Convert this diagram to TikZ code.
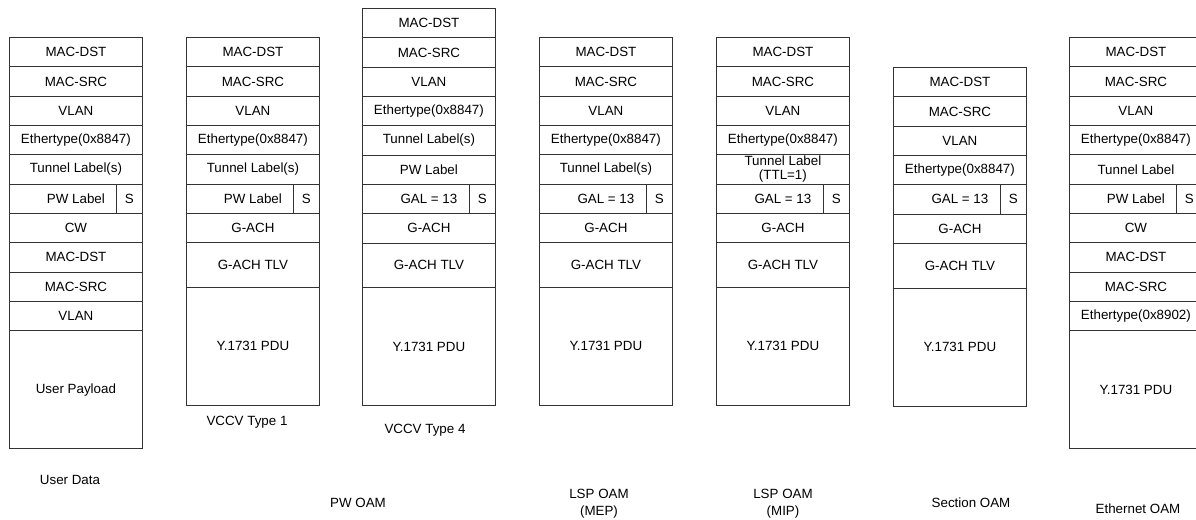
\documentclass[tikz,border=0pt]{standalone}
\usepackage{fontspec}
\setmainfont{Liberation Sans}
\usetikzlibrary{matrix, positioning}
\tikzset{
  field/.style={rectangle, draw=black!80, line width=0.6pt, minimum width=3.325cm, minimum height=0.733cm, inner sep=0pt, outer sep=0pt, text centered, font=\fontsize{9.5}{10.5}\selectfont},
  tlvfield/.style={field, minimum height=1.118cm},
  pdufield/.style={field, minimum height=2.95cm},
  sbit/.style={field, minimum width=0.65cm},
  stack/.style={matrix of nodes, nodes=field, row sep=-0.6pt, inner sep=0pt, outer sep=0pt, anchor=north west},
  caption/.style={font=\fontsize{9.5}{12}\selectfont, align=center}
}
% two-line label used inside the MIP stack
\newsavebox{\ttlbox}
\sbox{\ttlbox}{\fontsize{9.5}{10}\selectfont\begin{tabular}{@{}c@{}}Tunnel Label\\(TTL=1)\end{tabular}}

\begin{document}
\begin{tikzpicture}
    \useasboundingbox (0,0) rectangle (29.9,-12.975);

    % User data frame
    \matrix[stack] (ud) at (0.225,-0.925) {
        MAC-DST \\ MAC-SRC \\ VLAN \\ Ethertype(0x8847) \\ Tunnel Label(s) \\ PW Label \\ CW \\
        MAC-DST \\ MAC-SRC \\ VLAN \\ |[pdufield]| User Payload \\
    };
    \node[sbit, anchor=north east] (ud-s) at (ud-6-1.north east) {S};

    % PW OAM, VCCV type 1
    \matrix[stack] (vt1) at (4.65,-0.925) {
        MAC-DST \\ MAC-SRC \\ VLAN \\ Ethertype(0x8847) \\ Tunnel Label(s) \\ PW Label \\ G-ACH \\
        |[tlvfield]| G-ACH TLV \\ |[pdufield]| Y.1731 PDU \\
    };
    \node[sbit, anchor=north east] (vt1-s) at (vt1-6-1.north east) {S};

    % PW OAM, VCCV type 4
    \matrix[stack] (vt4) at (9.05,-0.2) {
        MAC-DST \\ MAC-SRC \\ VLAN \\ Ethertype(0x8847) \\ Tunnel Label(s) \\ PW Label \\ GAL = 13 \\ G-ACH \\
        |[tlvfield]| G-ACH TLV \\ |[pdufield]| Y.1731 PDU \\
    };
    \node[sbit, anchor=north east] (vt4-s) at (vt4-7-1.north east) {S};

    % LSP OAM at the MEP
    \matrix[stack] (mep) at (13.475,-0.925) {
        MAC-DST \\ MAC-SRC \\ VLAN \\ Ethertype(0x8847) \\ Tunnel Label(s) \\ GAL = 13 \\ G-ACH \\
        |[tlvfield]| G-ACH TLV \\ |[pdufield]| Y.1731 PDU \\
    };
    \node[sbit, anchor=north east] (mep-s) at (mep-6-1.north east) {S};

    % LSP OAM at the MIP
    \matrix[stack] (mip) at (17.9,-0.925) {
        MAC-DST \\ MAC-SRC \\ VLAN \\ Ethertype(0x8847) \\ \usebox{\ttlbox} \\ GAL = 13 \\ G-ACH \\
        |[tlvfield]| G-ACH TLV \\ |[pdufield]| Y.1731 PDU \\
    };
    \node[sbit, anchor=north east] (mip-s) at (mip-6-1.north east) {S};

    % Section OAM
    \matrix[stack] (sec) at (22.325,-1.675) {
        MAC-DST \\ MAC-SRC \\ VLAN \\ Ethertype(0x8847) \\ GAL = 13 \\ G-ACH \\
        |[tlvfield]| G-ACH TLV \\ |[pdufield]| Y.1731 PDU \\
    };
    \node[sbit, anchor=north east] (sec-s) at (sec-5-1.north east) {S};

    % Ethernet OAM
    \matrix[stack] (eth) at (26.725,-0.925) {
        MAC-DST \\ MAC-SRC \\ VLAN \\ Ethertype(0x8847) \\ Tunnel Label \\ PW Label \\ CW \\
        MAC-DST \\ MAC-SRC \\ Ethertype(0x8902) \\ |[pdufield]| Y.1731 PDU \\
    };
    \node[sbit, anchor=north east] (eth-s) at (eth-6-1.north east) {S};

    % Captions
    \node[caption] (vt1cap) at (6.175,-10.55) {VCCV Type 1};
    \node[caption] (vt4cap) at (10.625,-10.75) {VCCV Type 4};
    \node[caption] (udcap) at (1.75,-12.0) {User Data};
    \node[caption] (pwcap) at (8.95,-12.575) {PW OAM};
    \node[caption] (mepcap) at (14.975,-12.59) {LSP OAM\\(MEP)};
    \node[caption] (mipcap) at (19.575,-12.59) {LSP OAM\\(MIP)};
    \node[caption] (seccap) at (24.275,-12.575) {Section OAM};
    \node[caption] (ethcap) at (28.45,-12.725) {Ethernet OAM};
\end{tikzpicture}
\end{document}
